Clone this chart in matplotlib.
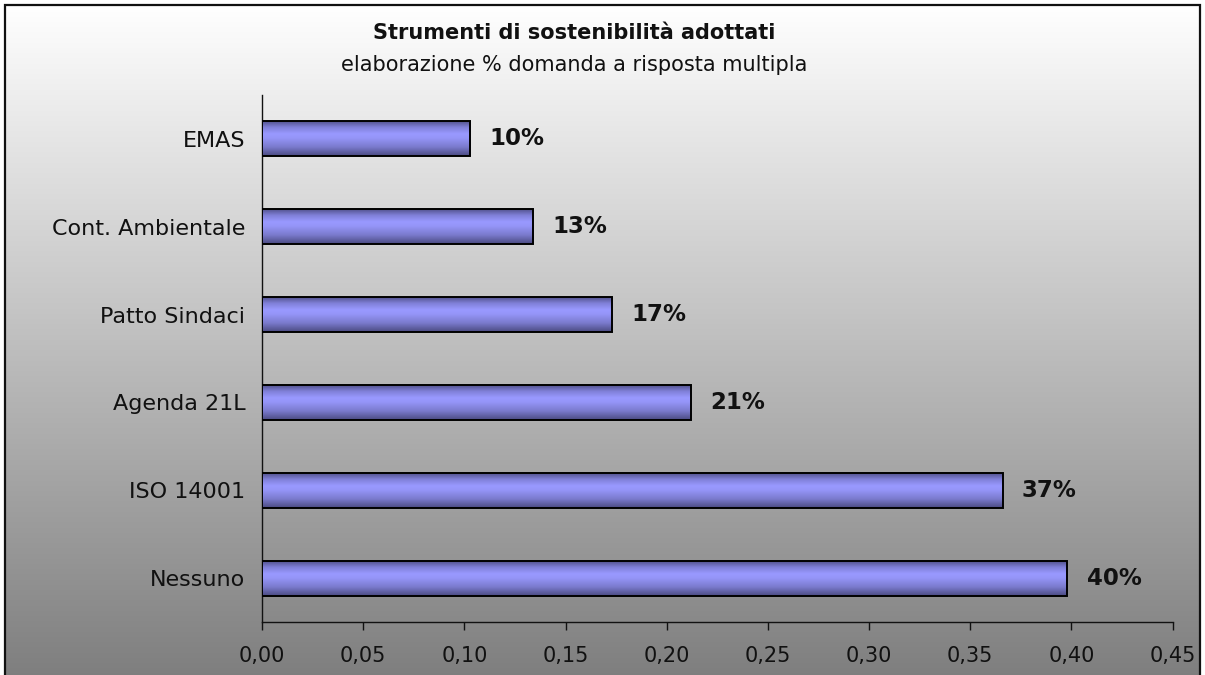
import numpy as np
import matplotlib
matplotlib.use("Agg")
import matplotlib.pyplot as plt
from matplotlib.colors import LinearSegmentedColormap
from matplotlib.patches import Rectangle

# Data
categories = ["Nessuno", "ISO 14001", "Agenda 21L", "Patto Sindaci",
              "Cont. Ambientale", "EMAS"]
shares = [0.398, 0.366, 0.212, 0.173, 0.134, 0.103]
xticks = [0.00, 0.05, 0.10, 0.15, 0.20, 0.25, 0.30, 0.35, 0.40, 0.45]
title = "Strumenti di sostenibilità adottati"
subtitle = "elaborazione % domanda a risposta multipla"

plt.rcParams["font.family"] = ["DejaVu Sans"]

W, H = 1205, 675
fig = plt.figure(figsize=(W / 100, H / 100), dpi=100, facecolor="white")

# Chart-area background: vertical gradient white -> grey inside the frame
bg = fig.add_axes([0, 0, 1, 1], zorder=-10)
bg.set_xlim(0, W)
bg.set_ylim(0, H)
bg.axis("off")
grad = np.linspace(0, 1, 256).reshape(-1, 1)
bg_cmap = LinearSegmentedColormap.from_list("bg", ["#ffffff", "#7e7e7e"])
fx0, fx1, fy0, fy1 = 5, 1200, -5, 670
bg.imshow(grad, aspect="auto", cmap=bg_cmap, extent=[fx0, fx1, fy0, fy1],
          origin="upper", interpolation="bilinear")
bg.set_xlim(0, W)
bg.set_ylim(0, H)
bg.add_patch(Rectangle((fx0, fy0), fx1 - fx0, fy1 - fy0, fill=False,
                       edgecolor="#111111", linewidth=1.6))

ax = fig.add_axes([262 / W, 53 / H, (1172.5 - 262) / W, (622 - 95) / H])
ax.set_facecolor("none")

y = np.arange(len(categories))
bars = ax.barh(y, shares, height=0.4, facecolor="none", edgecolor="black",
               linewidth=1.4, zorder=4)

# Shaded fill for each bar
bar_cmap = LinearSegmentedColormap.from_list(
    "bar", [(0.0, "#4a4a80"), (0.25, "#7a7acc"), (0.5, "#9595f8"),
            (0.62, "#9999ff"), (0.8, "#8080d8"), (1.0, "#4a4a80")])
for rect in bars:
    x0, y0 = rect.get_x(), rect.get_y()
    w, h = rect.get_width(), rect.get_height()
    im = ax.imshow(grad, aspect="auto", cmap=bar_cmap,
                   extent=[x0, x0 + w, y0, y0 + h], origin="lower",
                   interpolation="bilinear", zorder=3)
    im.set_clip_path(rect)

for yi, v in zip(y, shares):
    ax.annotate(f"{round(v * 100)}%", (v, yi), xytext=(14, 0),
                textcoords="offset points", va="center", ha="left",
                fontsize=16.5, fontweight="bold", color="#111111")

ax.set_xlim(0, 0.45)
ax.set_ylim(-0.5, len(categories) - 0.5)
ax.set_xticks(xticks)
ax.set_xticklabels([f"{t:.2f}".replace(".", ",") for t in xticks])
ax.set_yticks(y)
ax.set_yticklabels(categories)
ax.tick_params(axis="x", direction="out", length=6, width=1, pad=11,
               labelsize=15, colors="#111111")
ax.tick_params(axis="y", length=0, pad=12, labelsize=16, colors="#111111")
for s in ("top", "right"):
    ax.spines[s].set_visible(False)
for s in ("left", "bottom"):
    ax.spines[s].set_linewidth(1)
    ax.spines[s].set_color("#111111")

fig.text(574 / W, 1 - 33 / H, title, ha="center", va="center",
         fontsize=15, fontweight="bold", color="#111111")
fig.text(574 / W, 1 - 65 / H, subtitle, ha="center", va="center",
         fontsize=15, color="#111111")

fig.savefig("out.png", dpi=100, facecolor="white")
